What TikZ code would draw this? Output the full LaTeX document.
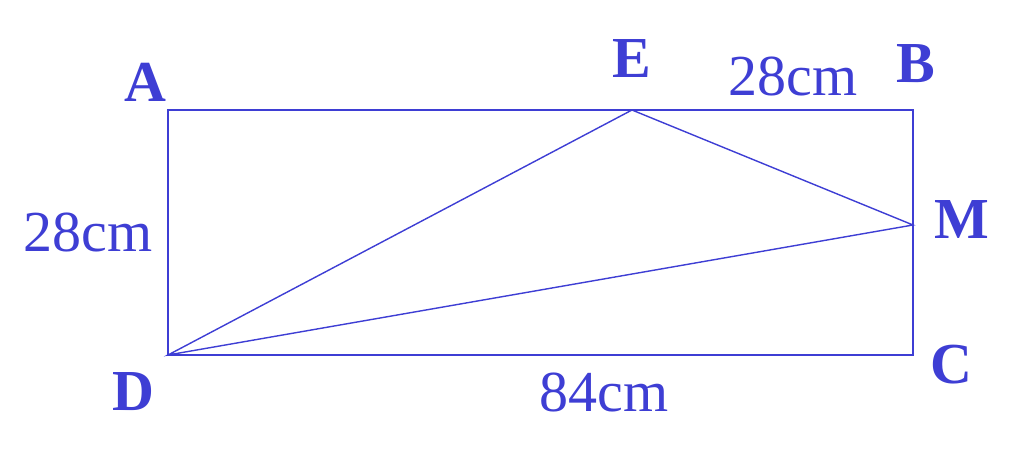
\documentclass[tikz,border=0pt]{standalone}
\usepackage{fontspec}
\setmainfont{Liberation Serif}
\usetikzlibrary{positioning}
\definecolor{figblue}{RGB}{62, 62, 212}

\begin{document}
\begin{tikzpicture}[
        edge/.style={figblue, line width=1.1pt},
        diag/.style={figblue, line width=0.8pt},
        vlabel/.style={figblue, font=\fontsize{33}{33}\selectfont\bfseries},
        dlabel/.style={figblue, font=\fontsize{33}{33}\selectfont}
    ]
        \useasboundingbox (0,0) rectangle (20.48,9.4);
        % Corners and points
        \coordinate (A) at (3.36,7.2);
        \coordinate (B) at (18.26,7.2);
        \coordinate (C) at (18.26,2.3);
        \coordinate (D) at (3.36,2.3);
        \coordinate (E) at (12.64,7.2);
        \coordinate (M) at (18.26,4.9);

        % Rectangle
        \draw[edge] (A) -- (B) -- (C) -- (D) -- cycle;

        % Segments from D and E
        \draw[diag] (D) -- (E) -- (M) -- cycle;

        % Vertex labels
        \node[vlabel] (lA) at (2.9,7.76) {A};
        \node[vlabel] (lE) at (12.64,8.22) {E};
        \node[vlabel] (lB) at (18.32,8.12) {B};
        \node[vlabel] (lM) at (19.24,5.0) {M};
        \node[vlabel] (lC) at (19.02,2.1) {C};
        \node[vlabel] (lD) at (2.66,1.56) {D};

        % Lengths
        \node[dlabel] (eb) at (15.86,7.88) {28cm};
        \node[dlabel] (ad) at (1.76,4.76) {28cm};
        \node[dlabel] (dc) at (12.08,1.56) {84cm};
    \end{tikzpicture}
\end{document}
